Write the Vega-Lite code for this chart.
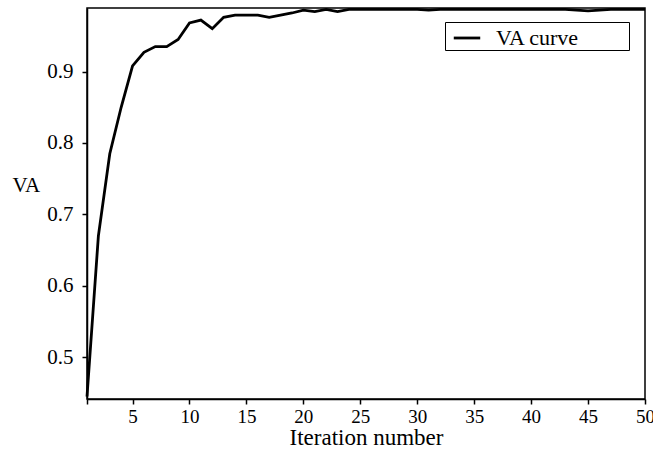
{
  "$schema": "https://vega.github.io/schema/vega-lite/v6.json",
  "width": 558,
  "height": 391,
  "autosize": "none",
  "padding": {"left": 87, "top": 8, "right": 8, "bottom": 55},
  "background": "white",
  "config": {
    "view": {"stroke": "black", "strokeWidth": 1.5},
    "font": "Times New Roman",
    "axis": {"labelFont": "Times New Roman", "titleFont": "Times New Roman"},
    "legend": {"labelFont": "Times New Roman", "titleFont": "Times New Roman"}
  },
  "data": {
    "values": [
      {"iteration": 1, "va": 0.445, "series": "VA curve"},
      {"iteration": 2, "va": 0.67, "series": "VA curve"},
      {"iteration": 3, "va": 0.785, "series": "VA curve"},
      {"iteration": 4, "va": 0.85, "series": "VA curve"},
      {"iteration": 5, "va": 0.908, "series": "VA curve"},
      {"iteration": 6, "va": 0.927, "series": "VA curve"},
      {"iteration": 7, "va": 0.935, "series": "VA curve"},
      {"iteration": 8, "va": 0.935, "series": "VA curve"},
      {"iteration": 9, "va": 0.945, "series": "VA curve"},
      {"iteration": 10, "va": 0.968, "series": "VA curve"},
      {"iteration": 11, "va": 0.972, "series": "VA curve"},
      {"iteration": 12, "va": 0.96, "series": "VA curve"},
      {"iteration": 13, "va": 0.976, "series": "VA curve"},
      {"iteration": 14, "va": 0.979, "series": "VA curve"},
      {"iteration": 15, "va": 0.979, "series": "VA curve"},
      {"iteration": 16, "va": 0.979, "series": "VA curve"},
      {"iteration": 17, "va": 0.976, "series": "VA curve"},
      {"iteration": 18, "va": 0.979, "series": "VA curve"},
      {"iteration": 19, "va": 0.982, "series": "VA curve"},
      {"iteration": 20, "va": 0.986, "series": "VA curve"},
      {"iteration": 21, "va": 0.984, "series": "VA curve"},
      {"iteration": 22, "va": 0.987, "series": "VA curve"},
      {"iteration": 23, "va": 0.984, "series": "VA curve"},
      {"iteration": 24, "va": 0.987, "series": "VA curve"},
      {"iteration": 25, "va": 0.987, "series": "VA curve"},
      {"iteration": 26, "va": 0.987, "series": "VA curve"},
      {"iteration": 27, "va": 0.987, "series": "VA curve"},
      {"iteration": 28, "va": 0.987, "series": "VA curve"},
      {"iteration": 29, "va": 0.987, "series": "VA curve"},
      {"iteration": 30, "va": 0.987, "series": "VA curve"},
      {"iteration": 31, "va": 0.986, "series": "VA curve"},
      {"iteration": 32, "va": 0.987, "series": "VA curve"},
      {"iteration": 33, "va": 0.987, "series": "VA curve"},
      {"iteration": 34, "va": 0.987, "series": "VA curve"},
      {"iteration": 35, "va": 0.987, "series": "VA curve"},
      {"iteration": 36, "va": 0.987, "series": "VA curve"},
      {"iteration": 37, "va": 0.987, "series": "VA curve"},
      {"iteration": 38, "va": 0.987, "series": "VA curve"},
      {"iteration": 39, "va": 0.987, "series": "VA curve"},
      {"iteration": 40, "va": 0.987, "series": "VA curve"},
      {"iteration": 41, "va": 0.987, "series": "VA curve"},
      {"iteration": 42, "va": 0.987, "series": "VA curve"},
      {"iteration": 43, "va": 0.987, "series": "VA curve"},
      {"iteration": 44, "va": 0.986, "series": "VA curve"},
      {"iteration": 45, "va": 0.985, "series": "VA curve"},
      {"iteration": 46, "va": 0.986, "series": "VA curve"},
      {"iteration": 47, "va": 0.987, "series": "VA curve"},
      {"iteration": 48, "va": 0.987, "series": "VA curve"},
      {"iteration": 49, "va": 0.987, "series": "VA curve"},
      {"iteration": 50, "va": 0.987, "series": "VA curve"}
    ]
  },
  "mark": {"type": "line", "strokeWidth": 2.8, "interpolate": "linear"},
  "encoding": {
    "x": {
      "field": "iteration",
      "type": "quantitative",
      "scale": {"domain": [1, 50], "nice": false, "zero": false},
      "axis": {
        "values": [1, 5, 10, 15, 20, 25, 30, 35, 40, 45, 50],
        "labelExpr": "datum.value == 1 ? '' : datum.label",
        "title": "Iteration number",
        "grid": false,
        "domainColor": "black",
        "domainWidth": 1.5,
        "tickColor": "black",
        "tickSize": 5,
        "tickWidth": 1.5,
        "labelFontSize": 19,
        "labelColor": "black",
        "labelPadding": 3,
        "labelFlush": false,
        "titleFontSize": 23,
        "titleFontWeight": "normal",
        "titleColor": "black",
        "titlePadding": 0
      }
    },
    "y": {
      "field": "va",
      "type": "quantitative",
      "scale": {"domain": [0.4415, 0.989], "nice": false, "zero": false},
      "axis": {
        "values": [0.5, 0.6, 0.7, 0.8, 0.9],
        "format": ".1f",
        "title": "VA",
        "titleAngle": 0,
        "titleAlign": "left",
        "titleBaseline": "middle",
        "titleX": -75,
        "titleY": 177,
        "titleFontSize": 21,
        "titleFontWeight": "normal",
        "titleColor": "black",
        "grid": false,
        "domainColor": "black",
        "domainWidth": 1.5,
        "tickColor": "black",
        "tickSize": 5,
        "tickWidth": 1.5,
        "labelFontSize": 21,
        "labelColor": "black",
        "labelPadding": 9,
        "labelFlush": false
      }
    },
    "color": {
      "field": "series",
      "type": "nominal",
      "scale": {"range": ["black"]},
      "legend": {
        "orient": "none",
        "legendX": 358,
        "legendY": 14,
        "title": null,
        "strokeColor": "black",
        "fillColor": "white",
        "padding": 1,
        "symbolType": "stroke",
        "symbolSize": 700,
        "symbolOffset": 6,
        "symbolStrokeWidth": 2.8,
        "labelFontSize": 22,
        "labelColor": "black",
        "labelOffset": 14,
        "labelExpr": "datum.label + '\u2800\u2800\u2800'"
      }
    }
  }
}
